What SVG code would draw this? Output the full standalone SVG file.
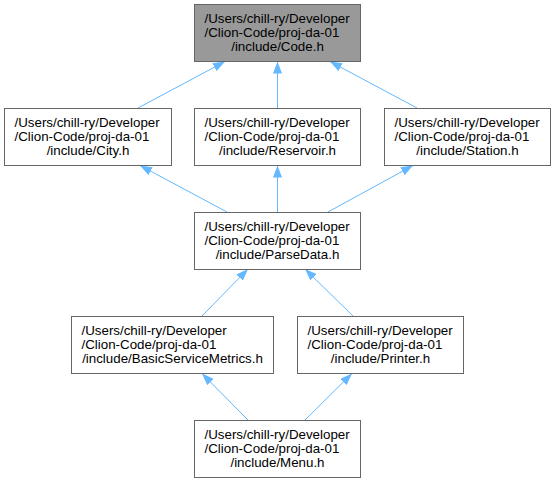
<svg xmlns="http://www.w3.org/2000/svg" width="555" height="481" viewBox="0 0 555 481">
<style>
.box{fill:#ffffff;stroke:#666666;stroke-width:1}
.hl{fill:#999999;stroke:#666666;stroke-width:1}
text{font-family:"Liberation Sans",Arial,Helvetica,sans-serif;font-size:13.33px;fill:#000000}
.m{text-anchor:middle}
.e{fill:none;stroke:#63b8ff;stroke-width:1}
</style>
<defs>
<marker id="ah" viewBox="0 0 12 9" refX="12" refY="4.5" markerWidth="12" markerHeight="9" markerUnits="userSpaceOnUse" orient="auto">
<path d="M0,0 L12,4.5 L0,9 Z" fill="#63b8ff"/>
</marker>
</defs>
<g id="edges">
<path class="e" marker-end="url(#ah)" d="M138,108 L225,61.5"/>
<path class="e" marker-end="url(#ah)" d="M277.5,108 L277.5,61.5"/>
<path class="e" marker-end="url(#ah)" d="M417,108 L330,61.5"/>
<path class="e" marker-end="url(#ah)" d="M227,212 L140,165.5"/>
<path class="e" marker-end="url(#ah)" d="M277.5,212 L277.5,165.5"/>
<path class="e" marker-end="url(#ah)" d="M328,212 L413,165.5"/>
<path class="e" marker-end="url(#ah)" d="M202,316 L248,269"/>
<path class="e" marker-end="url(#ah)" d="M353,316 L305,269"/>
<path class="e" marker-end="url(#ah)" d="M248,420 L202,373.5"/>
<path class="e" marker-end="url(#ah)" d="M305,420 L352,373.5"/>
</g>
<g id="code">
<rect class="hl" x="194.5" y="4.5" width="166" height="57"/>
<text x="204.5" y="23">/Users/chill-ry/Developer</text>
<text x="204.5" y="37">/Clion-Code/proj-da-01</text>
<text class="m" x="277.5" y="51">/include/Code.h</text>
</g>
<g id="city">
<rect class="box" x="4.5" y="108.5" width="167" height="57"/>
<text x="14.5" y="127">/Users/chill-ry/Developer</text>
<text x="14.5" y="141">/Clion-Code/proj-da-01</text>
<text class="m" x="88" y="155">/include/City.h</text>
</g>
<g id="reservoir">
<rect class="box" x="194.5" y="108.5" width="166" height="57"/>
<text x="204.5" y="127">/Users/chill-ry/Developer</text>
<text x="204.5" y="141">/Clion-Code/proj-da-01</text>
<text class="m" x="277.5" y="155">/include/Reservoir.h</text>
</g>
<g id="station">
<rect class="box" x="384.5" y="108.5" width="166" height="57"/>
<text x="394.5" y="127">/Users/chill-ry/Developer</text>
<text x="394.5" y="141">/Clion-Code/proj-da-01</text>
<text class="m" x="467.5" y="155">/include/Station.h</text>
</g>
<g id="parsedata">
<rect class="box" x="194.5" y="212.5" width="166" height="57"/>
<text x="204.5" y="231">/Users/chill-ry/Developer</text>
<text x="204.5" y="245">/Clion-Code/proj-da-01</text>
<text class="m" x="277.5" y="259">/include/ParseData.h</text>
</g>
<g id="basicservicemetrics">
<rect class="box" x="71.5" y="316.5" width="202" height="57"/>
<text x="81.5" y="335">/Users/chill-ry/Developer</text>
<text x="81.5" y="349">/Clion-Code/proj-da-01</text>
<text class="m" x="172.5" y="363">/include/BasicServiceMetrics.h</text>
</g>
<g id="printer">
<rect class="box" x="297.5" y="316.5" width="166" height="57"/>
<text x="307.5" y="335">/Users/chill-ry/Developer</text>
<text x="307.5" y="349">/Clion-Code/proj-da-01</text>
<text class="m" x="380.5" y="363">/include/Printer.h</text>
</g>
<g id="menu">
<rect class="box" x="194.5" y="420.5" width="166" height="57"/>
<text x="204.5" y="439">/Users/chill-ry/Developer</text>
<text x="204.5" y="453">/Clion-Code/proj-da-01</text>
<text class="m" x="277.5" y="467">/include/Menu.h</text>
</g>
</svg>
